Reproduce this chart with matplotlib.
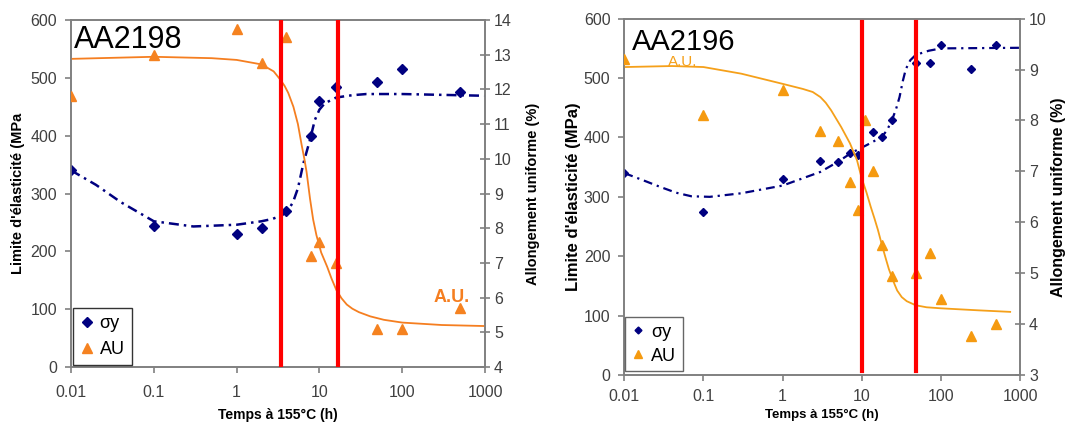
import matplotlib
matplotlib.use('Agg')
from matplotlib import pyplot as plt
from matplotlib.lines import Line2D

plt.rcParams['font.family'] = ['Liberation Sans', 'DejaVu Sans']

# ---- AA2198 (left) ----
t_2198 = [0.01, 0.1, 1, 2, 4, 8, 10, 16, 50, 100, 500]
sy_2198 = [340, 244, 230, 240, 270, 400, 460, 485, 493, 515, 476]
au_2198 = [11.8, 13.0, 13.75, 12.75, 13.5, 7.2, 7.6, 7.0, 5.1, 5.1, 5.7]

# trend curves
t_sy_fit_2198 = [0.01, 0.02, 0.04, 0.1, 0.3, 1, 2, 2.7, 3.5, 4.1, 4.8, 5.5, 6.4, 7.7, 8.8, 10, 11.6, 16, 25, 37, 100, 1000]
sy_fit_2198 = [340, 315, 285, 252, 243, 246, 252, 256, 262, 269, 285, 309, 352, 393, 427, 445, 456, 466, 470, 472, 472, 469]
t_au_fit_2198 = [0.01, 0.1, 0.5, 1, 2, 2.8, 3.4, 3.8, 4.2, 4.85, 5.5, 6.1, 6.6, 7.0, 7.7, 8.4, 9.2, 10.5,
                 12.4, 14, 16, 18.5, 21.4, 25, 30, 41, 60, 100, 300, 1000]
au_fit_2198 = [12.88, 12.94, 12.9, 12.85, 12.72, 12.52, 12.27, 12.1, 11.9, 11.5, 11.0, 10.4, 9.98, 9.62, 8.85, 8.25,
               7.8, 7.3, 6.89, 6.55, 6.22, 5.98, 5.8, 5.68, 5.58, 5.46, 5.36, 5.28, 5.21, 5.18]
vlines_2198 = [3.4, 17]

# ---- AA2196 (right) ----
t_sy_2196 = [0.01, 0.1, 1, 3, 5, 7, 9, 14, 18, 24, 48, 72, 100, 240, 500]
sy_2196 = [340, 275, 330, 360, 358, 374, 370, 410, 400, 430, 526, 525, 555, 515, 555]
t_au_2196 = [0.01, 0.1, 1, 3, 5, 7, 9, 11, 14, 18, 24, 48, 72, 100, 240, 500]
au_2196 = [9.2, 8.1, 8.6, 7.8, 7.6, 6.8, 6.25, 8.0, 7.0, 5.55, 4.95, 5.0, 5.4, 4.5, 3.77, 4.0]

t_sy_fit_2196 = [0.01, 0.018, 0.028, 0.045, 0.07, 0.12, 0.3, 1, 3, 5, 7, 9, 11.5, 18, 21, 24, 27, 30, 33, 36, 41, 48, 70, 100, 1000]
sy_fit_2196 = [340, 327, 317, 307, 301, 300, 306, 319, 342, 359, 372, 380, 387, 401, 413, 429, 447, 468, 495, 515, 530, 539, 546, 550, 551]
t_au_fit_2196 = [0.01, 0.04, 0.1, 0.3, 1, 1.8, 2.4, 3, 3.5, 4.1, 5.5, 7.1, 8.7, 10, 11.5, 13, 14.5, 16, 18, 20, 22, 24, 26,
                 28, 32, 37, 48, 66, 100, 300, 750]
au_fit_2196 = [9.05, 9.07, 9.05, 8.92, 8.72, 8.62, 8.56, 8.46, 8.35, 8.2, 7.87, 7.55, 7.22, 6.86, 6.58, 6.3, 6.07, 5.85,
               5.55, 5.3, 5.08, 4.92, 4.78, 4.66, 4.53, 4.45, 4.37, 4.33, 4.31, 4.27, 4.24]
vlines_2196 = [10, 48]

xticks = [0.01, 0.1, 1, 10, 100, 1000]
xticklabels = ['0.01', '0.1', '1', '10', '100', '1000']

NAVY = '#000080'
RED = '#ff0000'
GREY = '#808080'
TXT = '#404040'


def style_axes(ax, ax2, fs, xpad):
    ax.set_xscale('log')
    ax.set_xlim(0.01, 1000)
    ax.set_xticks(xticks)
    ax.set_xticklabels(xticklabels)
    ax.minorticks_off()
    ax.set_ylim(0, 600)
    ax.set_yticks(range(0, 601, 100))
    for a in (ax, ax2):
        for s in a.spines.values():
            s.set_color(GREY)
            s.set_linewidth(1.2)
    ax.tick_params(axis='both', direction='out', length=4, color=GREY,
                   labelsize=fs, labelcolor=TXT, width=1.2, pad=6)
    ax.tick_params(axis='x', pad=xpad)
    ax2.tick_params(axis='y', direction='inout', length=7, color=GREY,
                    labelsize=fs, labelcolor=TXT, width=1.2, pad=3)


fig = plt.figure(figsize=(10.66, 4.23), dpi=100)

# left chart
ax = fig.add_axes([0.0666, 0.1324, 0.3884, 0.8203])
ax2 = ax.twinx()
ax.plot(t_sy_fit_2198, sy_fit_2198, color=NAVY, lw=1.8, ls=(0, (4, 2, 1, 2)), zorder=2)
ax.plot(t_2198, sy_2198, ls='none', marker='D', ms=5.5, color=NAVY, zorder=3)
ax2.plot(t_au_fit_2198, au_fit_2198, color='#f57e20', lw=1.3, zorder=2)
ax2.plot(t_2198, au_2198, ls='none', marker='^', ms=7, color='#f58220', zorder=3)
for v in vlines_2198:
    ax2.axvline(v, color=RED, lw=3, zorder=4)
ax2.set_ylim(4, 14)
ax2.set_yticks(range(4, 15))
style_axes(ax, ax2, 11.5, 9)
ax.set_xlabel('Temps à 155°C (h)', fontsize=10, fontweight='bold', labelpad=6)
ax.set_ylabel("Limite d'élasticité (MPa", fontsize=10.5, fontweight='bold', labelpad=4)
ax2.set_ylabel('Allongement uniforme (%)', fontsize=10.5, fontweight='bold', labelpad=10)
ax.text(0.006, 0.985, 'AA2198', transform=ax.transAxes, fontsize=22, va='top', ha='left', zorder=5)
ax2.text(400, 6.0, 'A.U.', fontsize=13, fontweight='bold', color='#f57e20', ha='center', va='center')
h = [Line2D([], [], ls='none', marker='D', ms=5, color=NAVY),
     Line2D([], [], ls='none', marker='^', ms=7, color='#f58220')]
leg = ax2.legend(h, ['σy', 'AU'], loc='lower left', bbox_to_anchor=(0.004, 0.005), fontsize=13,
                 frameon=True, fancybox=False, edgecolor='black', handlelength=0.8,
                 handletextpad=0.3, borderpad=0.4, labelspacing=0.5, borderaxespad=0)
leg.get_frame().set_linewidth(1.0)

# right chart
bx = fig.add_axes([0.5857, 0.1135, 0.3712, 0.8423])
bx2 = bx.twinx()
bx.plot(t_sy_fit_2196, sy_fit_2196, color=NAVY, lw=1.6, ls=(0, (4, 2.2, 1, 2.2)), zorder=2)
bx.plot(t_sy_2196, sy_2196, ls='none', marker='D', ms=3.8, color=NAVY, zorder=3)
bx2.plot(t_au_fit_2196, au_fit_2196, color='#f5a01a', lw=1.3, zorder=2)
bx2.plot(t_au_2196, au_2196, ls='none', marker='^', ms=7, color='#f59a10', zorder=3)
for v in vlines_2196:
    bx2.axvline(v, ymin=0.01, ymax=0.99, color=RED, lw=3, zorder=4)
bx2.set_ylim(3, 10)
bx2.set_yticks(range(3, 11))
style_axes(bx, bx2, 11.5, 6)
bx.set_xlabel('Temps à 155°C (h)', fontsize=9.5, fontweight='bold', labelpad=4)
bx.set_ylabel("Limite d'élasticité (MPa)", fontsize=12, fontweight='bold', labelpad=2)
bx2.set_ylabel('Allongement uniforme (%)', fontsize=11.5, fontweight='bold', labelpad=3)
bx.text(0.02, 0.975, 'AA2196', transform=bx.transAxes, fontsize=21, va='top', ha='left', zorder=5)
bx2.text(0.055, 9.15, 'A.U.', fontsize=11, color='#f5a01a', ha='center', va='center')
h = [Line2D([], [], ls='none', marker='D', ms=3.5, color=NAVY),
     Line2D([], [], ls='none', marker='^', ms=6, color='#f59a10')]
leg = bx2.legend(h, ['σy', 'AU'], loc='lower left', bbox_to_anchor=(0.002, 0.011), fontsize=13,
                 frameon=True, fancybox=False, edgecolor='#404040', handlelength=0.7,
                 handletextpad=0.4, borderpad=0.35, labelspacing=0.4, borderaxespad=0)
leg.get_frame().set_linewidth(1.0)

fig.savefig('out.png', dpi=100)
